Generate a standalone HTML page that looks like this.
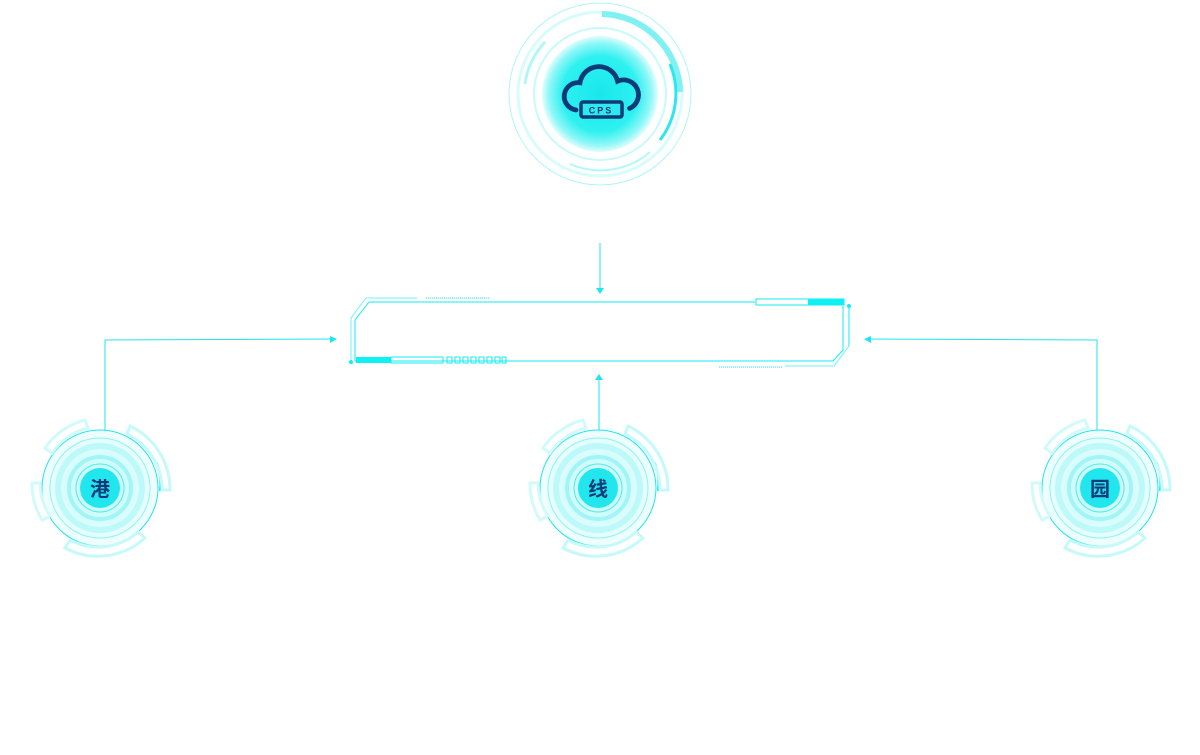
<!DOCTYPE html>
<html><head><meta charset="utf-8"><style>
html,body{margin:0;padding:0;background:#fff;width:1200px;height:755px;overflow:hidden}
svg{display:block}
text{font-family:"Liberation Sans","Noto Sans CJK SC",sans-serif;font-weight:bold;fill:#0f3a78}
</style></head><body>
<svg width="1200" height="755" viewBox="0 0 1200 755">
<defs>
<radialGradient id="tg" cx="50%" cy="50%" r="50%">
<stop offset="0" stop-color="#18e8ec"/><stop offset="0.65" stop-color="#2ef0f0"/><stop offset="0.88" stop-color="#8ff7f7"/><stop offset="1" stop-color="#e0fdfd"/>
</radialGradient>
<radialGradient id="sg" cx="50%" cy="50%" r="50%">
<stop offset="0" stop-color="#b8fafa"/><stop offset="0.6" stop-color="#d8fcfc"/><stop offset="1" stop-color="#f2fefe"/>
</radialGradient>
<g id="small">
<circle r="58" fill="url(#sg)" stroke="#1ee6ee" stroke-width="1"/>
<circle r="50" fill="none" stroke="#8ff3f5" stroke-width="1"/>
<circle r="42" fill="none" stroke="#a6f6f7" stroke-width="6" opacity="0.6"/>
<circle r="31" fill="none" stroke="#7ff0f3" stroke-width="4" opacity="0.6"/>
<circle r="24" fill="none" stroke="#4eeaf0" stroke-width="1"/>
<circle r="20" fill="#22e6ee"/>
<path d="M57,-25 A62,62 0 0 1 60,3" fill="none" stroke="#1ee6ee" stroke-width="2"/>
<path d="M30,-62 A70,70 0 0 1 70,2 L62,2 A62,62 0 0 0 27,-54 Z" fill="none" stroke="#c5f9fa" stroke-width="3"/>
<path d="M-55,-40 A70,70 0 0 1 -15,-68 L-12,-60 A62,62 0 0 0 -48,-35 Z" fill="none" stroke="#d2fafa" stroke-width="3"/>
<path d="M-68,-5 A70,70 0 0 0 -58,32 L-50,28 A60,60 0 0 1 -60,-5 Z" fill="none" stroke="#d2fafa" stroke-width="3"/>
<path d="M-35,60 A70,70 0 0 0 45,50 L38,44 A60,60 0 0 1 -30,52 Z" fill="none" stroke="#c5f9fa" stroke-width="3"/>
</g>
</defs>

<!-- top node -->
<g transform="translate(600,94)">
<circle r="91" fill="none" stroke="#aef6f7" stroke-width="1"/>
<circle r="82" fill="none" stroke="#d8fbfb" stroke-width="3"/>
<path d="M2,-80 A80,80 0 0 1 80,-2" fill="none" stroke="#7ff1f3" stroke-width="6"/>
<path d="M70,-30 A76,76 0 0 1 60,46" fill="none" stroke="#2ce8ee" stroke-width="3"/>
<path d="M-75,-10 A76,76 0 0 1 -55,-52" fill="none" stroke="#b2f7f8" stroke-width="3"/>
<path d="M-30,70 A76,76 0 0 0 50,58" fill="none" stroke="#b2f7f8" stroke-width="2"/>
<circle r="66" fill="none" stroke="#c8fafa" stroke-width="2"/>
<circle r="58" fill="url(#tg)"/>
<g transform="translate(0,0) scale(0.8)">
<path d="M-30,20 A16,16 0 0 1 -25,-14 A24,24 0 0 1 22,-16 A17,17 0 0 1 37,18" fill="none" stroke="#0f3a78" stroke-width="6" stroke-linecap="round"/>
</g>
<rect x="-19" y="8" width="41" height="15" rx="2" fill="#2ee8ee" stroke="#0f3a78" stroke-width="3.5"/>
<text x="1" y="19.5" font-size="9" text-anchor="middle" letter-spacing="2">CPS</text>
</g>

<!-- connectors -->
<g stroke="#1ee6ee" stroke-width="1" fill="none">
<line x1="600" y1="243" x2="600" y2="290"/>
<line x1="599" y1="380" x2="599" y2="430"/>
<polyline points="105,430 105,340 332,339"/>
<polyline points="1097,430 1097,340 868,339"/>
</g>
<g fill="#1ee6ee">
<polygon points="596,288 604,288 600,294"/>
<polygon points="595,380 603,380 599,374"/>
<polygon points="330,336 330,343 337,339"/>
<polygon points="871,336 871,343 864,339"/>
</g>

<!-- frame -->
<g stroke="#12eef0" stroke-width="1" fill="none">
<polyline points="369,302 755,302"/>
<polyline points="369,302 355,320 355,361 833,361 843,350 843,306"/>
<polyline points="417,298 366,298 351,318 351,362" stroke="#6ff3f4"/>
<line x1="426" y1="298" x2="490" y2="298" stroke-dasharray="1 1"/>
<rect x="756" y="299" width="88" height="6"/>
<rect x="391" y="357" width="52" height="6"/>
<line x1="849" y1="306" x2="849" y2="346"/>
<polyline points="849,346 834,366 785,366" stroke="#6ff3f4"/>
<line x1="719" y1="367" x2="783" y2="367" stroke-dasharray="1 1"/>
<g stroke-width="1">
<rect x="447" y="357" width="5" height="6"/><rect x="455" y="357" width="5" height="6"/><rect x="463" y="357" width="5" height="6"/><rect x="471" y="357" width="5" height="6"/><rect x="479" y="357" width="5" height="6"/><rect x="487" y="357" width="5" height="6"/><rect x="495" y="357" width="5" height="6"/><rect x="502" y="357" width="4" height="6"/>
</g>
</g>
<g fill="#0ff0f2">
<rect x="808" y="299" width="36" height="6"/>
<rect x="356" y="357" width="35" height="6"/>
<circle cx="351" cy="362" r="2"/>
<circle cx="849" cy="306" r="2"/>
</g>

<use href="#small" x="100" y="488"/>
<use href="#small" x="598" y="488"/>
<use href="#small" x="1100" y="488"/>
<text x="100" y="496" font-size="20" text-anchor="middle">港</text>
<text x="598" y="496" font-size="20" text-anchor="middle">线</text>
<text x="1100" y="496" font-size="20" text-anchor="middle">园</text>
</svg>
</body></html>
